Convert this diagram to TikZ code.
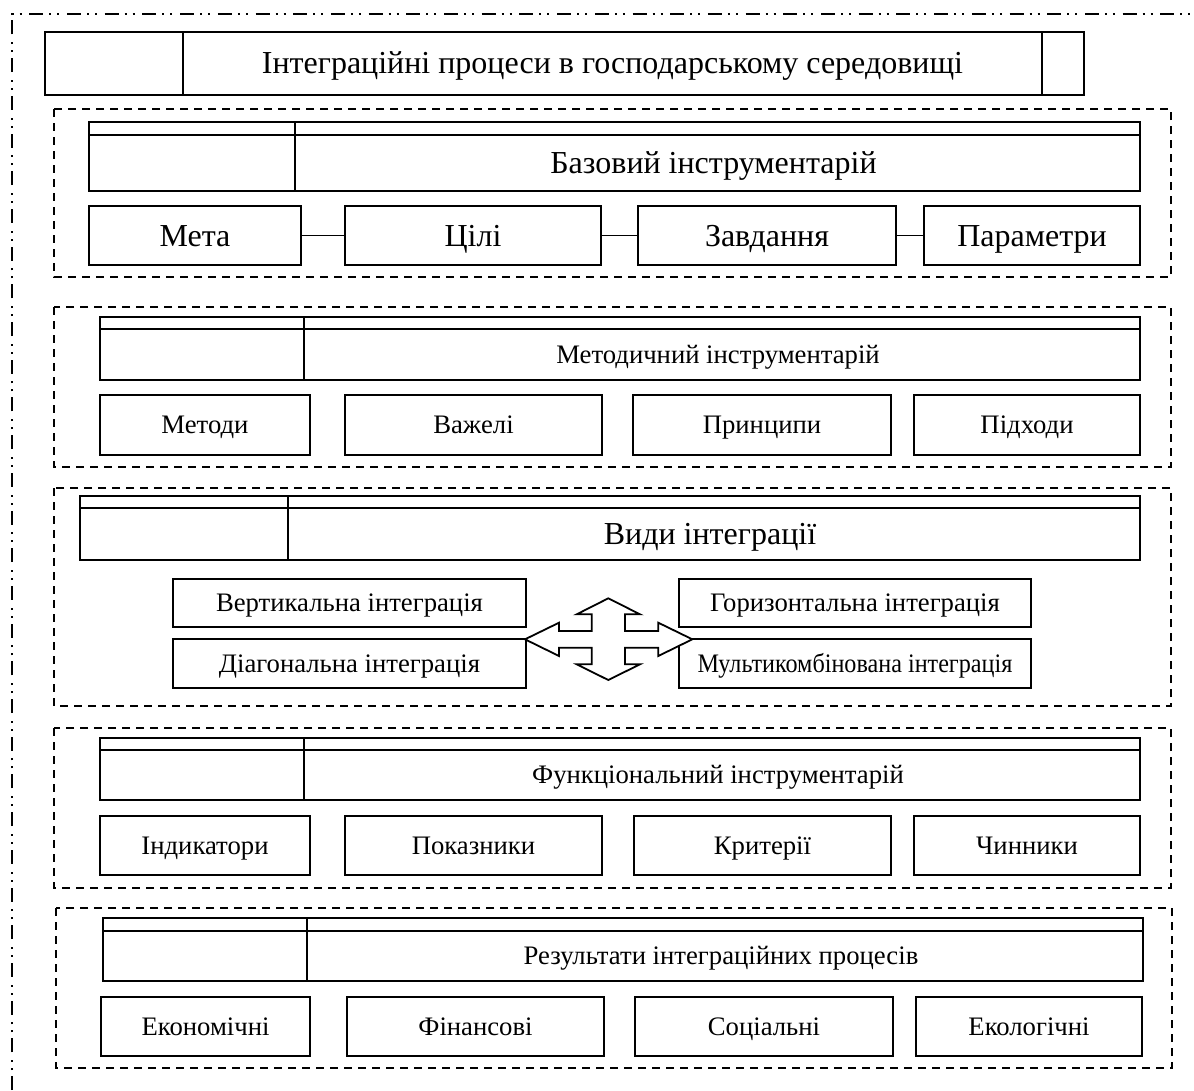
\documentclass[tikz,border=0pt]{standalone}
\usepackage{fontspec}
\setmainfont{Liberation Serif}
\newcommand\mybox[7]{% name, x1, y1, x2, y2, style, text
  \node[box,#6,minimum width={#4-#2},minimum height={#5-#3}] (#1) at ({(#2+#4)/2},{(#3+#5)/2}) {#7};}
\newcommand\myheader[9]{% name, x1, y1, strip, divider, x2, y2, style, text
  \node[box,minimum width={#6-#2},minimum height={#7-#3}] (#1) at ({(#2+#6)/2},{(#3+#7)/2}) {};
  \draw[line width=1.6pt] (#1.west |- 0,#4) -- (#1.east |- 0,#4);
  \draw[line width=1.9pt] (#5,#3) -- (#5,#7);
  \node[lbl,#8] (#1t) at ({(#5+#6)/2-4},{(#4+#7)/2}) {#9};}
\begin{document}
\begin{tikzpicture}[x=1pt,y=-1pt,
  box/.style={draw,line width=1.9pt,inner sep=0pt,outer sep=0pt,text depth=0pt},
  grp/.style={draw,line width=1.8pt,dash pattern=on 8pt off 6pt},
  outer/.style={draw,line width=2pt,dash pattern=on 14pt off 6pt on 2pt off 6pt on 2pt off 7.7pt},
  big/.style={font=\fontsize{32}{36}\selectfont,text height=21.2pt,text depth=0pt},
  small/.style={font=\fontsize{26.7}{30}\selectfont,text height=17.7pt,text depth=0pt},
  lbl/.style={inner sep=0pt,text depth=0pt},
  link/.style={line width=1.9pt}
]
\useasboundingbox (0,0) rectangle (1194,1090);
% outer dash-dot frame
\draw[outer] (12,1090) -- (12,14) -- (1194,14);

% title
\node[box,minimum width=1039,minimum height=63] (title) at (564.5,63.5) {};
\draw[line width=1.9pt] (183,32) -- (183,95);
\draw[line width=1.9pt] (1042,32) -- (1042,95);
\node[lbl,big] (titlet) at (612.5,62.5) {Інтеграційні процеси в господарському середовищі};

% group 1
\draw[grp] (54,109) rectangle (1171,277);
\myheader{h1}{89}{122}{135}{295}{1140}{191}{big}{Базовий інструментарій}
\mybox{meta}{89}{206}{301}{265}{big}{Мета}
\mybox{tsili}{345}{206}{601}{265}{big}{Цілі}
\mybox{zavd}{638}{206}{896}{265}{big}{Завдання}
\mybox{param}{924}{206}{1140}{265}{big}{Параметри}
\draw[link] (meta) -- (tsili);
\draw[link] (tsili) -- (zavd);
\draw[link] (zavd) -- (param);

% group 2
\draw[grp] (54,307) rectangle (1171,467);
\myheader{h2}{100}{317}{329}{304}{1140}{380}{small}{Методичний інструментарій}
\mybox{metody}{100}{395}{310}{455}{small}{Методи}
\mybox{vazheli}{345}{395}{602}{455}{small}{Важелі}
\mybox{pryntsypy}{633}{395}{891}{455}{small}{Принципи}
\mybox{pidkhody}{914}{395}{1140}{455}{small}{Підходи}

% group 3
\draw[grp] (54,488) rectangle (1171,706);
\myheader{h3}{80}{496}{508}{288}{1140}{560}{big}{Види інтеграції}
\mybox{vert}{173}{579}{526}{627}{small}{Вертикальна інтеграція}
\mybox{diag}{173}{639}{526}{688}{small}{Діагональна інтеграція}
\mybox{hor}{679}{579}{1031}{627}{small}{Горизонтальна інтеграція}
\mybox{multi}{679}{639}{1031}{688}{small}{\scalebox{0.905}[1]{Мультикомбінована інтеграція}}
\draw[line width=1.8pt,fill=white,line join=miter]
  (525,639.3) -- (559,622.7) -- (559,631) -- (591.7,631) -- (591.7,614.3) -- (576.7,614.3)
  -- (608.3,598.3) -- (640,614.3) -- (625,614.3) -- (625,631) -- (658.3,631) -- (658.3,622.7)
  -- (692.3,639.3) -- (658.3,656) -- (658.3,647.7) -- (625,647.7) -- (625,664.3) -- (640,664.3)
  -- (608.3,680) -- (576.7,664.3) -- (591.7,664.3) -- (591.7,647.7) -- (559,647.7) -- (559,656) -- cycle;

% group 4
\draw[grp] (54,728) rectangle (1171,888);
\myheader{h4}{100}{738}{750}{304}{1140}{800}{small}{Функціональний інструментарій}
\mybox{indyk}{100}{816}{310}{875}{small}{Індикатори}
\mybox{pokaz}{345}{816}{602}{875}{small}{Показники}
\mybox{kryt}{634}{816}{891}{875}{small}{Критерії}
\mybox{chyn}{914}{816}{1140}{875}{small}{Чинники}

% group 5
\draw[grp] (56,908) rectangle (1172,1068);
\myheader{h5}{103}{918}{931}{307}{1143}{981}{small}{Результати інтеграційних процесів}
\mybox{ekon}{101}{997}{310}{1056}{small}{Економічні}
\mybox{fin}{347}{997}{604}{1056}{small}{Фінансові}
\mybox{sots}{635}{997}{893}{1056}{small}{Соціальні}
\mybox{ekol}{916}{997}{1142}{1056}{small}{Екологічні}
\end{tikzpicture}
\end{document}
